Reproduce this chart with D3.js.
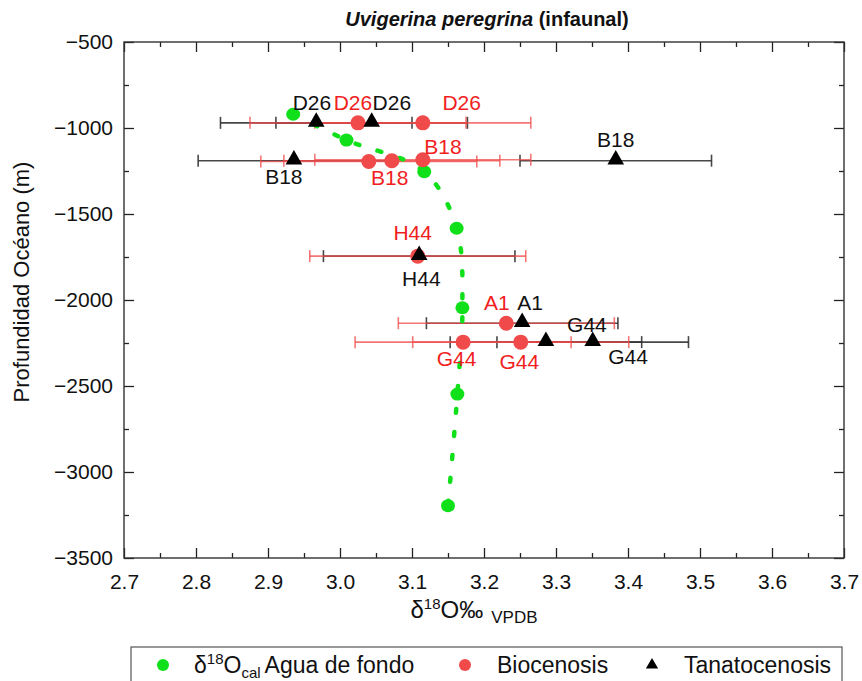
<!DOCTYPE html>
<html>
<head>
<meta charset="utf-8">
<script src="https://cdn.jsdelivr.net/npm/d3@7"></script>
<style>
  html, body { margin: 0; padding: 0; background: #fff; }
  svg { display: block; font-family: "Liberation Sans", Arial, sans-serif; }
</style>
</head>
<body>
<svg id="chart" width="862" height="681"></svg>
<script>
// ---------- data ----------
const xTickValues = [2.7, 2.8, 2.9, 3.0, 3.1, 3.2, 3.3, 3.4, 3.5, 3.6, 3.7];
const yTickValues = [-500, -1000, -1500, -2000, -2500, -3000, -3500];

// δ18O cal Agua de fondo (green)
const greenX = [2.935, 3.009, 3.117, 3.162, 3.170, 3.163, 3.150];
const greenY = [-920, -1070, -1254, -1583, -2045, -2547, -3196];

// Biocenosis (red)
const bioX   = [3.025, 3.115, 3.040, 3.072, 3.115, 3.108, 3.231, 3.171, 3.251];
const bioY   = [-970, -970, -1195, -1190, -1185, -1745, -2135, -2245, -2245];
const bioErr = [0.15, 0.15, 0.15, 0.15, 0.15, 0.15, 0.15, 0.15, 0.15];

// Tanatocenosis (black)
const tanX   = [2.967, 3.044, 2.936, 3.383, 3.110, 3.253, 3.286, 3.351];
const tanY   = [-970, -970, -1190, -1190, -1745, -2135, -2245, -2245];
const tanErr = [0.133, 0.133, 0.133, 0.133, 0.133, 0.133, 0.133, 0.133];

// point labels (text, data position, series)
const labelText   = ["D26", "D26", "D26", "D26", "B18", "B18", "B18", "B18", "H44", "H44", "A1", "A1", "G44", "G44", "G44", "G44"];
const labelX      = [2.961, 3.018, 3.072, 3.169, 2.922, 3.143, 3.069, 3.383, 3.101, 3.113, 3.218, 3.264, 3.343, 3.162, 3.249, 3.400];
const labelY      = [-855, -855, -855, -855, -1285, -1110, -1291, -1070, -1610, -1878, -2016, -2016, -2145, -2343, -2359, -2330];
const labelSeries = ["tan", "bio", "tan", "bio", "tan", "bio", "bio", "tan", "bio", "tan", "bio", "tan", "tan", "bio", "bio", "tan"];

const titleItalic = "Uvigerina peregrina";
const titleRest = " (infaunal)";
const yLabel = "Profundidad Océano (m)";
const legendItems = ["Agua de fondo", "Biocenosis", "Tanatocenosis"];

// ---------- drawing ----------
const svg = d3.select("#chart");
const L = 124, R = 844, T = 42, B = 558;
const x = d3.scaleLinear().domain([2.7, 3.7]).range([L, R]);
const y = d3.scaleLinear().domain([-3500, -500]).range([B, T]);

const GREEN = "#0fe01a", RED = "#f04a4a", BLACK = "#000";
const fmtX = d3.format(".1f");
const fmtY = d3.format("d");
const minorX = d3.range(2.75, 3.7, 0.1);
const minorY = d3.range(-750, -3500, -500);

// axes
function styleAxis(g) {
  g.select(".domain").remove();
  g.selectAll(".tick line").attr("stroke", "#222").attr("stroke-width", 1.3);
  g.selectAll(".tick text").attr("fill", "#111").attr("font-size", 21)
    .attr("font-family", "Liberation Sans, Arial, sans-serif");
}
svg.append("g").attr("transform", `translate(0,${B})`)
  .call(d3.axisBottom(x).tickValues(xTickValues).tickFormat(fmtX).tickSize(-10).tickPadding(16))
  .call(styleAxis);
svg.append("g").attr("transform", `translate(0,${B})`)
  .call(d3.axisBottom(x).tickValues(minorX).tickFormat("").tickSize(-5))
  .call(styleAxis);
svg.append("g").attr("transform", `translate(0,${T})`)
  .call(d3.axisTop(x).tickValues(xTickValues).tickFormat("").tickSize(-10))
  .call(styleAxis);
svg.append("g").attr("transform", `translate(0,${T})`)
  .call(d3.axisTop(x).tickValues(minorX).tickFormat("").tickSize(-5))
  .call(styleAxis);
svg.append("g").attr("transform", `translate(${L},0)`)
  .call(d3.axisLeft(y).tickValues(yTickValues).tickFormat(fmtY).tickSize(-10).tickPadding(11))
  .call(styleAxis);
svg.append("g").attr("transform", `translate(${L},0)`)
  .call(d3.axisLeft(y).tickValues(minorY).tickFormat("").tickSize(-5))
  .call(styleAxis);
svg.append("g").attr("transform", `translate(${R},0)`)
  .call(d3.axisRight(y).tickValues(yTickValues).tickFormat("").tickSize(-10))
  .call(styleAxis);
svg.append("g").attr("transform", `translate(${R},0)`)
  .call(d3.axisRight(y).tickValues(minorY).tickFormat("").tickSize(-5))
  .call(styleAxis);

svg.append("rect").attr("x", L).attr("y", T).attr("width", R - L).attr("height", B - T)
  .attr("fill", "none").attr("stroke", "#333").attr("stroke-width", 1.4);

// title
const title = svg.append("text").attr("x", 487).attr("y", 26).attr("text-anchor", "middle")
  .attr("font-size", 20).attr("font-weight", "bold").attr("fill", "#111");
title.append("tspan").attr("font-style", "italic").text(titleItalic);
title.append("tspan").text(titleRest);

// axis titles
const xl = svg.append("text").attr("x", 474).attr("y", 618).attr("text-anchor", "middle")
  .attr("font-size", 24).attr("fill", "#111");
xl.append("tspan").text("δ");
xl.append("tspan").attr("font-size", 15).attr("dy", -9).text("18");
xl.append("tspan").attr("dy", 9).text("O‰");
xl.append("tspan").attr("font-size", 17).attr("dy", 5).attr("dx", 8).text("VPDB");

svg.append("text").attr("transform", `translate(29,${282}) rotate(-90)`)
  .attr("text-anchor", "middle").attr("font-size", 22).attr("fill", "#111").text(yLabel);

// error bars
function errorBars(xs, ys, es, color, opacity, cap) {
  const g = svg.append("g").attr("stroke", color).attr("stroke-opacity", opacity).attr("stroke-width", 1.6);
  xs.forEach((v, i) => {
    const yy = y(ys[i]);
    g.append("line").attr("x1", x(v - es[i])).attr("x2", x(v + es[i])).attr("y1", yy).attr("y2", yy);
    g.append("line").attr("x1", x(v - es[i])).attr("x2", x(v - es[i])).attr("y1", yy - cap).attr("y2", yy + cap);
    g.append("line").attr("x1", x(v + es[i])).attr("x2", x(v + es[i])).attr("y1", yy - cap).attr("y2", yy + cap);
  });
}
errorBars(tanX, tanY, tanErr, "#333", 0.9, 6);
errorBars(bioX, bioY, bioErr, RED, 0.75, 6);

// green dotted curve
const gpts = greenX.map((v, i) => [x(v), y(greenY[i])]);
svg.append("path").attr("d", d3.line().curve(d3.curveCatmullRom.alpha(0.5))(gpts))
  .attr("fill", "none").attr("stroke", GREEN).attr("stroke-width", 4.5)
  .attr("stroke-linecap", "round").attr("stroke-dasharray", "4,19");
svg.append("g").selectAll("ellipse").data(gpts).join("ellipse")
  .attr("cx", d => d[0]).attr("cy", d => d[1]).attr("rx", 7).attr("ry", 6.5).attr("fill", GREEN);

// biocenosis
svg.append("g").selectAll("circle").data(bioX).join("circle")
  .attr("cx", d => x(d)).attr("cy", (d, i) => y(bioY[i])).attr("r", 7.5).attr("fill", RED);

// tanatocenosis
const tri = d3.symbol().type(d3.symbolTriangle).size(120);
svg.append("g").selectAll("path").data(tanX).join("path")
  .attr("transform", (d, i) => `translate(${x(d)},${y(tanY[i]) - 1})`)
  .attr("d", tri).attr("fill", BLACK);

// labels
svg.append("g").selectAll("text").data(labelText).join("text")
  .attr("x", (d, i) => x(labelX[i])).attr("y", (d, i) => y(labelY[i]))
  .attr("dy", "0.35em").attr("text-anchor", "middle").attr("font-size", 21)
  .attr("fill", (d, i) => labelSeries[i] === "bio" ? "#f01e1e" : "#111").text(d => d);

// legend
const lg = svg.append("g");
lg.append("rect").attr("x", 131).attr("y", 647).attr("width", 711).attr("height", 50)
  .attr("fill", "#fff").attr("stroke", "#555").attr("stroke-width", 1.2);
const ly = 665;
lg.append("circle").attr("cx", 163).attr("cy", ly).attr("r", 6).attr("fill", GREEN);
const lt = lg.append("text").attr("x", 194).attr("y", ly + 8).attr("font-size", 23).attr("fill", "#111");
lt.append("tspan").text("δ");
lt.append("tspan").attr("font-size", 15).attr("dy", -9).text("18");
lt.append("tspan").attr("dy", 9).text("O");
lt.append("tspan").attr("font-size", 15).attr("dy", 5).text("cal");
lt.append("tspan").attr("dy", -5).attr("dx", 4).text(legendItems[0]);
lg.append("circle").attr("cx", 465).attr("cy", ly).attr("r", 6).attr("fill", RED);
lg.append("text").attr("x", 497).attr("y", ly + 8).attr("font-size", 23).attr("fill", "#111").text(legendItems[1]);
lg.append("path").attr("transform", `translate(652,${ly})`).attr("d", d3.symbol().type(d3.symbolTriangle).size(65)).attr("fill", BLACK);
lg.append("text").attr("x", 684).attr("y", ly + 8).attr("font-size", 23).attr("fill", "#111").text(legendItems[2]);
</script>
</body>
</html>
